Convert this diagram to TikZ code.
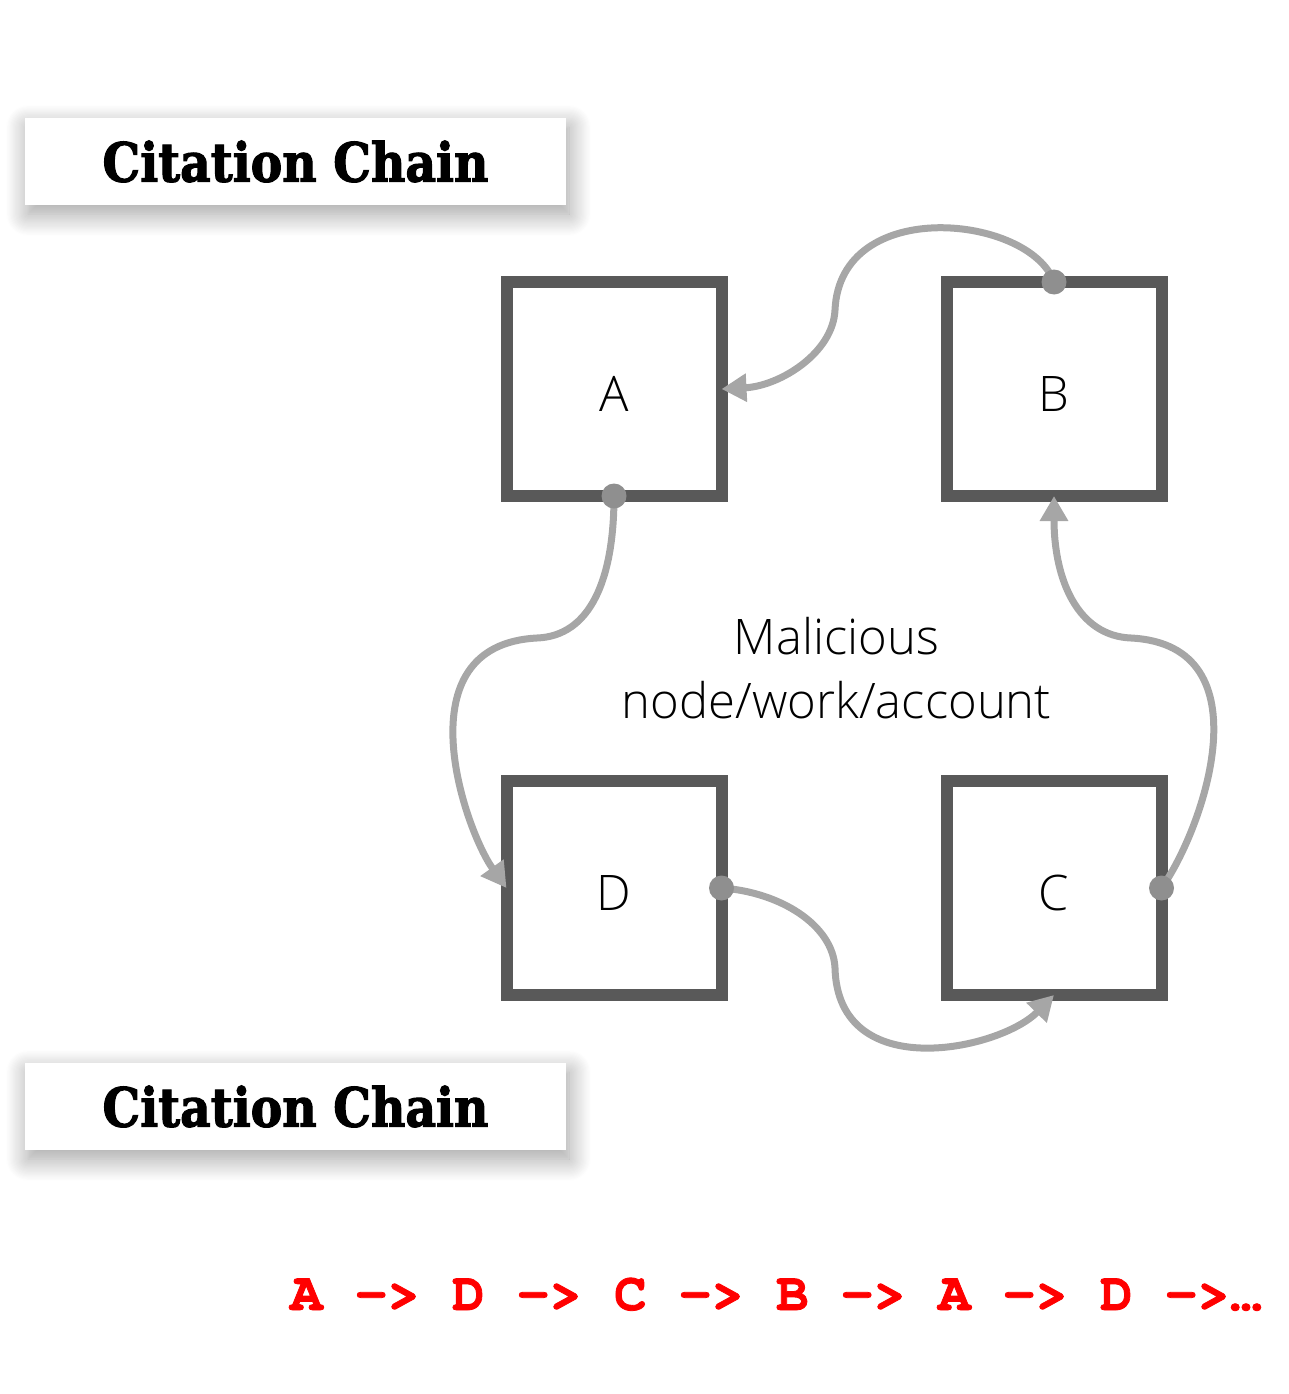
\documentclass[tikz,border=0pt]{standalone}
\usepackage{fontspec}
\usepackage{graphicx}
\usetikzlibrary{arrows.meta,shadows.blur}
\newfontfamily\lightfont{Open Sans Light}
\newfontfamily\titlefont{DejaVu Serif}[BoldFeatures={FakeBold=2.2}]
\IfFontExistsTF{texgyrecursor-bold.otf}
  {\newfontfamily\chainfont{texgyrecursor}[Extension=.otf, UprightFont=*-regular, BoldFont=*-bold, BoldFeatures={FakeBold=1.5}]}
  {\newfontfamily\chainfont{Liberation Mono}}
\definecolor{boxgray}{HTML}{595959}
\definecolor{linkgray}{HTML}{A6A6A6}
\definecolor{dotgray}{HTML}{8F8F8F}
\definecolor{chainred}{HTML}{FF0000}
\tikzset{
  cbox/.style={draw=boxgray, line width=12pt, fill=white, minimum width=215pt,
    minimum height=214pt, inner sep=0pt, outer sep=0pt, text height=45pt, text depth=0pt,
    font=\lightfont\fontsize{49}{59}\selectfont},
  titlebox/.style={fill=white, minimum width=541pt, minimum height=87pt, inner sep=0pt,
    blur shadow={shadow xshift=3pt, shadow yshift=-9pt, shadow blur radius=22pt,
      shadow blur steps=20, shadow opacity=38}},
  link/.style={draw=linkgray, line width=7pt, -{Triangle[length=25pt,width=27pt]}},
  dot/.style={fill=dotgray},
}
\begin{document}
\begin{tikzpicture}[x=1pt,y=-1pt]
\useasboundingbox (0,0) rectangle (1288,1394);
\node[titlebox] (t1) at (295.5,161.5) {\resizebox{386pt}{41pt}{\titlefont\bfseries Citation Chain}};
\node[titlebox] (t2) at (295.5,1106.5) {\resizebox{386pt}{41pt}{\titlefont\bfseries Citation Chain}};
\node[cbox] (A) at (614,389) {A};
\node[cbox] (B) at (1054,389) {B};
\node[cbox] (D) at (614,888) {D};
\node[cbox] (C) at (1054,888) {C};
\node[anchor=base, inner sep=0pt, font=\lightfont\fontsize{49}{64}\selectfont] (mal) at (836.5,654)
  {\begin{tabular}[t]{@{}c@{}}Malicious\\node/work/account\end{tabular}};
% B -> A
\draw[link] (B.north) .. controls (1030,215) and (840,195) .. (835,310)
  .. controls (833,353) and (780,386) .. (A.east);
% A -> D
\draw[link] (A.south) .. controls (614,580) and (590,636) .. (537,638)
  .. controls (400,645) and (465,830) .. (D.west);
% C -> B
\draw[link] (C.east) .. controls (1203,830) and (1268,645) .. (1131,638)
  .. controls (1078,636) and (1054,580) .. (B.south);
% D -> C
\draw[link] (D.east) .. controls (780,892) and (833,925) .. (835,968)
  .. controls (838,1085) and (1000,1050) .. (C.south);
\fill[dot] (B.north) circle (12.5pt);
\fill[dot] (A.south) circle (12.5pt);
\fill[dot] (C.east) circle (12.5pt);
\fill[dot] (D.east) circle (12.5pt);
\node[anchor=base west, inner sep=0pt, text=chainred,
  font=\chainfont\bfseries\fontsize{54}{60}\selectfont] (seq) at (290,1310)
  {A -> D -> C -> B -> A -> D ->…};
\end{tikzpicture}
\end{document}
